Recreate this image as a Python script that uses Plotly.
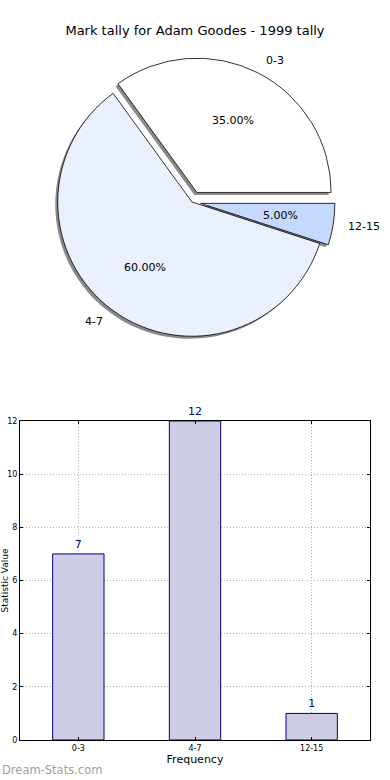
import math
import plotly.graph_objects as go

# ---- data ----
categories = ["0-3", "4-7", "12-15"]
counts = [7, 12, 1]
pie_pull = [0.08, 0.0, 0.065]
pie_colors = ["#ffffff", "#eaf0fd", "#c5d9ff"]
title_text = "Mark tally for Adam Goodes - 1999 tally"
x_title = "Frequency"
y_title = "Statistic Value"
y_ticks = [0, 2, 4, 6, 8, 10, 12]

W, H = 390, 780
ML, MR, MT, MB = 20, 20, 0, 40
PW, PH = W - ML - MR, H - MT - MB

def px_x(x):  # pixel -> paper
    return (x - ML) / PW

def px_y(y):
    return (H - MB - y) / PH

# pie box (pixels)
cx, cy, half = 192, 202, 145
dom_x = [px_x(cx - half), px_x(cx + half)]
dom_y = [px_y(cy + half), px_y(cy - half)]
sh = 2.5
dom_x_sh = [px_x(cx - half - sh), px_x(cx + half - sh)]
dom_y_sh = [px_y(cy + half + sh), px_y(cy - half + sh)]
r = (2 * half) / (2 * (1 + max(pie_pull)))  # plotly pie radius

# matplotlib starts at 3 o'clock counter-clockwise
total = sum(counts)
rot = 90 - 360 * counts[0] / total

fig = go.Figure()

common = dict(labels=categories, values=counts, sort=False,
              direction="counterclockwise", rotation=rot, pull=pie_pull,
              hoverinfo="skip", showlegend=False, textinfo="none")

# shadow
fig.add_trace(go.Pie(
    domain=dict(x=dom_x_sh, y=dom_y_sh),
    marker=dict(colors=["#8a8a8a"] * 3, line=dict(width=0)), **common))

# main pie
fig.add_trace(go.Pie(
    domain=dict(x=dom_x, y=dom_y),
    marker=dict(colors=pie_colors, line=dict(color="#000000", width=0.8)),
    **common))

# labels and percentages placed like matplotlib (label at 1.1 r, pct at 0.6 r)
pie_font = dict(family="DejaVu Sans", size=11, color="#000000")
start = 0.0
for cat, v, p in zip(categories, counts, pie_pull):
    frac = v / total
    mid = math.radians(start + frac * 180)
    start += frac * 360
    c, s = math.cos(mid), math.sin(mid)
    ox, oy = cx + p * r * c, cy - p * r * s
    fig.add_annotation(text=f"{frac * 100:.2f}%", xref="paper", yref="paper",
                       x=px_x(ox + 0.6 * r * c), y=px_y(oy - 0.6 * r * s),
                       xanchor="center", yanchor="middle", showarrow=False,
                       font=pie_font)
    fig.add_annotation(text=cat, xref="paper", yref="paper",
                       x=px_x(ox + 1.1 * r * c), y=px_y(oy - 1.1 * r * s),
                       xanchor="left" if c > 0 else "right", yanchor="middle",
                       showarrow=False, font=pie_font)

# bar chart
fig.add_trace(go.Bar(
    x=categories, y=counts, width=0.44,
    marker=dict(color="#ccccE5", line=dict(color="#000080", width=1)),
    text=[str(v) for v in counts], textposition="outside",
    textfont=dict(family="DejaVu Sans", size=11, color="#000080"),
    cliponaxis=False, hoverinfo="skip", showlegend=False,
    xaxis="x", yaxis="y"))

bar_top = 421
grid = dict(showgrid=True, gridcolor="#b0b0b0", griddash="1px,2px", gridwidth=1)
fig.update_layout(
    width=W, height=H,
    margin=dict(l=ML, r=MR, t=MT, b=MB),
    paper_bgcolor="white", plot_bgcolor="white",
    font=dict(family="DejaVu Sans", color="#000000"),
    title=dict(text=title_text, x=0.5, xref="paper", y=1 - 30 / H, yref="container",
               xanchor="center", yanchor="middle",
               font=dict(family="DejaVu Sans", size=13, color="#000000")),
    xaxis=dict(domain=[0, 1], range=[-0.5, 2.5], type="category",
               showline=True, linecolor="#000000", linewidth=1, mirror="ticks",
               ticks="inside", ticklen=3, tickcolor="#000000",
               tickfont=dict(size=8, color="#000000"),
               title=dict(text=x_title, font=dict(size=11), standoff=3),
               automargin=False, zeroline=False, fixedrange=True, **grid),
    yaxis=dict(domain=[0, px_y(bar_top)], range=[0, 12], tickvals=y_ticks,
               showline=True, linecolor="#000000", linewidth=1, mirror="ticks",
               ticks="inside", ticklen=3, tickcolor="#000000",
               tickfont=dict(size=8, color="#000000"),
               title=dict(text=y_title, font=dict(size=9), standoff=1),
               automargin=False, zeroline=False, fixedrange=True, **grid),
)
fig.add_annotation(text="Dream-Stats.com", xref="paper", yref="paper",
                   x=px_x(0), y=px_y(770), xanchor="left", yanchor="middle",
                   showarrow=False,
                   font=dict(family="DejaVu Sans", size=11.5, color="#a0a0a0"))

fig.write_html("out.html", config={"displayModeBar": False},
               post_script="document.body.style.margin='0px';")
